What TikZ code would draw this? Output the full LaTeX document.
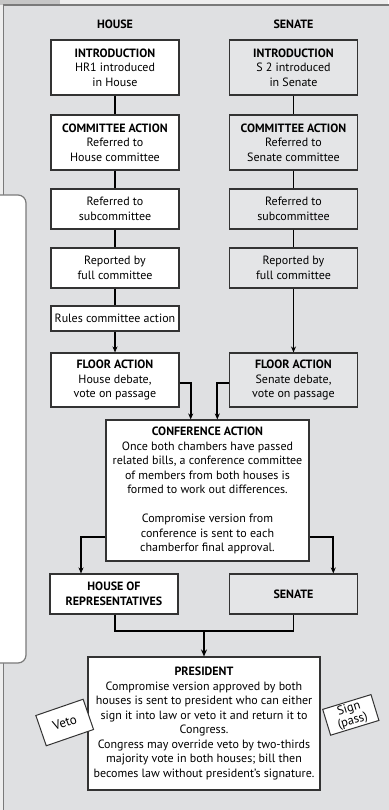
\documentclass[tikz,border=0pt]{standalone}
\usepackage{fontspec}
\setmainfont{PT Sans}
\usetikzlibrary{arrows.meta}
\definecolor{panel}{HTML}{DFE0E2}
\definecolor{outer}{HTML}{EEEEEE}
\definecolor{sbox}{HTML}{E4E5E7}
\definecolor{edge}{HTML}{333333}
\definecolor{panedge}{HTML}{7A7A7A}
\tikzset{
  txt/.style={font=\fontsize{12}{14.5}\selectfont, align=center, inner sep=0pt},
  hbox/.style={txt, draw=edge, line width=1.1pt, fill=white, minimum width=128pt},
  sbx/.style={hbox, fill=sbox},
  conn/.style={draw=black, line width=1.8pt},
  arr/.style={conn, -{Stealth[length=6pt,width=5pt]}},
  tag/.style={txt, draw=edge, line width=1pt, fill=white, minimum width=50pt},
  head/.style={font=\fontsize{12}{14}\selectfont\bfseries, inner sep=0pt}
}
\begin{document}
\begin{tikzpicture}[x=1pt,y=-1pt]
\useasboundingbox (0,0) rectangle (388,810);
% outer background and panel
\fill[outer] (0,0) rectangle (388,810);
\fill[gray!45] (0,0) rectangle (60,5);
\fill[panel] (3.5,5) rectangle (392,814);
\draw[panedge, line width=1.2pt] (3.5,814) -- (3.5,5) -- (392,5);
% left white panel
\draw[panedge, line width=1.2pt, fill=white, rounded corners=8pt] (-10,195) -- (26,195) -- (26,663) -- (-10,663);

% headers
\node[head] (hh) at (115,24) {HOUSE};
\node[head] (sh) at (293.5,24) {SENATE};

% House column
\node[hbox, minimum height=55pt] (hintro) at (115,67.5) {\textbf{INTRODUCTION}\\HR1 introduced\\in House};
\node[hbox, minimum height=55pt] (hcomm) at (115,142.5) {\textbf{COMMITTEE ACTION}\\Referred to\\House committee};
\node[hbox, minimum height=40pt] (hsub) at (115,209) {Referred to\\subcommittee};
\node[hbox, minimum height=40pt] (hrep) at (115,268) {Reported by\\full committee};
\node[hbox, minimum height=25pt] (hrules) at (115,318.5) {Rules committee action};
\node[hbox, minimum height=54pt] (hfloor) at (115,380) {\textbf{FLOOR ACTION}\\House debate,\\vote on passage};

% Senate column
\node[sbx, minimum height=55pt] (sintro) at (293.5,67.5) {\textbf{INTRODUCTION}\\S 2 introduced\\in Senate};
\node[sbx, minimum height=55pt] (scomm) at (293.5,142.5) {\textbf{COMMITTEE ACTION}\\Referred to\\Senate committee};
\node[sbx, minimum height=40pt] (ssub) at (293.5,209) {Referred to\\subcommittee};
\node[sbx, minimum height=40pt] (srep) at (293.5,268) {Reported by\\full committee};
\node[sbx, minimum height=54pt] (sfloor) at (293.5,380) {\textbf{FLOOR ACTION}\\Senate debate,\\vote on passage};

% Conference
\node[hbox, minimum width=203pt, minimum height=141pt] (conf) at (207.5,490.5) {\textbf{CONFERENCE ACTION}\\Once both chambers have passed\\related bills, a conference committee\\of members from both houses is\\formed to work out differences.\\[14.5pt]Compromise version from\\conference is sent to each\\chamberfor final approval.};

% Final chambers
\node[hbox, minimum height=40pt] (hor) at (114,594) {\textbf{HOUSE OF}\\\textbf{REPRESENTATIVES}};
\node[sbx, minimum height=40pt] (sen) at (293.5,594) {\textbf{SENATE}};

% President
\node[hbox, minimum width=232pt, minimum height=133pt] (pres) at (204,723.5) {\textbf{PRESIDENT}\\Compromise version approved by both\\houses is sent to president who can either\\sign it into law or veto it and return it to\\Congress.\\Congress may override veto by two-thirds\\majority vote in both houses; bill then\\becomes law without president’s signature.};

% tags
\node[tag, minimum height=32pt, rotate=19, font=\fontsize{13}{14}\selectfont] (veto) at (64.7,722.5) {Veto};
\node[tag, minimum height=27pt, minimum width=50.5pt, rotate=17, font=\fontsize{12.5}{13}\selectfont] (sign) at (350.8,714.9) {Sign\\(pass)};

% connectors house
\draw[conn] (hintro) -- (hcomm);
\draw[conn] (hcomm) -- (hsub);
\draw[conn] (hsub) -- (hrep);
\draw[conn] (hrep) -- (hrules);
\draw[arr] (hrules) -- (hfloor);
% senate
\draw[conn] (sintro) -- (scomm);
\draw[conn] (scomm) -- (ssub);
\draw[conn] (ssub) -- (srep);
\draw[arr] (srep) -- (sfloor);
% to conference
\draw[arr] ([yshift=-3pt]hfloor.east) -| ([xshift=-16.8pt]conf.north);
\draw[arr] ([yshift=-3pt]sfloor.west) -| ([xshift=9.8pt]conf.north);
% from conference
\draw[arr] ([yshift=-46.8pt]conf.west) -| ([xshift=-33pt]hor.north);
\draw[arr] ([yshift=-46.8pt]conf.east) -| ([xshift=39.8pt]sen.north);
% bracket to president
\coordinate (brk) at (204,631);
\draw[conn] ([xshift=1pt]hor.south) |- (brk) -| (sen.south);
\draw[conn, line width=2.6pt, -{Stealth[length=7pt,width=6pt]}] (brk) -- (pres.north);
\end{tikzpicture}
\end{document}
